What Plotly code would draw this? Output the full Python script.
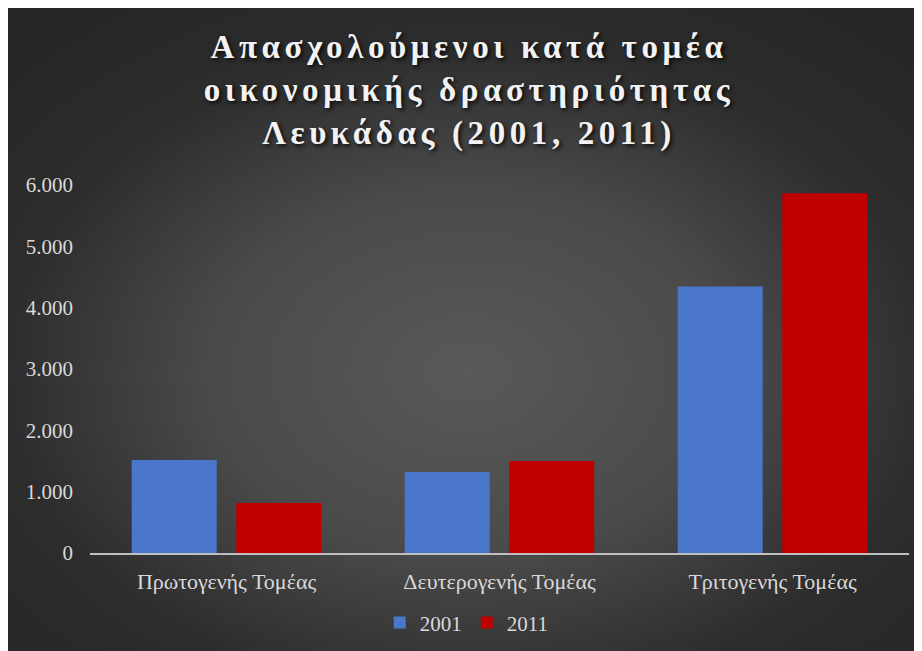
import base64
import plotly.graph_objects as go

# ---- data ----
categories = ["Πρωτογενής Τομέας", "Δευτερογενής Τομέας", "Τριτογενής Τομέας"]
series_names = ["2001", "2011"]
values_2001 = [1515, 1320, 4345]
values_2011 = [815, 1500, 5865]
y_tick_values = [0, 1000, 2000, 3000, 4000, 5000, 6000]
title_lines = ["Απασχολούμενοι κατά τομέα", "οικονομικής δραστηριότητας", "Λευκάδας (2001, 2011)"]

# ---- layout geometry ----
W, H = 922, 651
ML, MR, MT, MB = 82, 21, 177, 106
PW, PH = W - ML - MR, H - MT - MB

# radial gradient background as an SVG image
svg = (
    '<svg xmlns="http://www.w3.org/2000/svg" width="922" height="651" viewBox="0 0 922 651" '
    'preserveAspectRatio="none"><defs><radialGradient id="g" cx="0.5" cy="0.56" r="0.7">'
    '<stop offset="0" stop-color="#595959"/><stop offset="0.4" stop-color="#4a4a4a"/>'
    '<stop offset="0.72" stop-color="#2d2d2d"/><stop offset="1" stop-color="#262626"/>'
    '</radialGradient></defs>'
    '<rect x="0" y="0" width="922" height="651" fill="url(#g)"/></svg>'
)
bg_src = "data:image/svg+xml;base64," + base64.b64encode(svg.encode("utf-8")).decode("ascii")

serif = "Liberation Serif, Times New Roman, serif"

fig = go.Figure()
fig.add_trace(go.Bar(x=categories, y=values_2001, name=series_names[0],
                     marker=dict(color="#4a77cc", line=dict(width=0))))
fig.add_trace(go.Bar(x=categories, y=values_2011, name=series_names[1],
                     marker=dict(color="#c00000", line=dict(width=0))))

fig.update_layout(
    width=W, height=H,
    margin=dict(l=ML, r=MR, t=MT, b=MB, autoexpand=False),
    paper_bgcolor="#2a2a2a",
    plot_bgcolor="rgba(0,0,0,0)",
    separators=",.",
    barmode="group",
    bargap=0.234,
    bargroupgap=0.187,
    title=dict(
        text="<br>".join(title_lines),
        x=0.5, xref="container", xanchor="center",
        y=0.923, yref="container", yanchor="top",
        font=dict(family=serif, size=33, color="#f2f2f2", weight="bold",
                  shadow="2px 2px 4px rgba(0,0,0,0.85)"),
    ),
    showlegend=True,
    legend=dict(
        orientation="h", x=0.46, xanchor="center", y=-0.19, yanchor="middle",
        font=dict(family=serif, size=21, color="#d9d9d9"),
        bgcolor="rgba(0,0,0,0)", itemwidth=30, traceorder="normal",
    ),
    images=[dict(
        source=bg_src, xref="paper", yref="paper",
        x=-ML / PW, y=(H - MB) / PH,
        sizex=W / PW, sizey=H / PH,
        xanchor="left", yanchor="top", sizing="stretch", layer="below",
    )],
    font=dict(family=serif, color="#d9d9d9"),
)

fig.update_xaxes(
    showgrid=False, showline=True, linecolor="#bfbfbf", linewidth=2,
    ticks="", tickfont=dict(family=serif, size=22, color="#d9d9d9"),
    ticklabelstandoff=8, zeroline=False,
)
fig.update_yaxes(
    range=[0, 6000], tickvals=y_tick_values, tickformat=",d",
    showgrid=False, showline=False, zeroline=False, ticks="",
    tickfont=dict(family=serif, size=21, color="#d9d9d9"),
    ticklabelstandoff=16,
)

post_script = (
    "document.querySelectorAll('.gtitle').forEach(function(e){e.style.letterSpacing='4.6px';});"
)
fig.write_html("out.html", post_script=post_script)
